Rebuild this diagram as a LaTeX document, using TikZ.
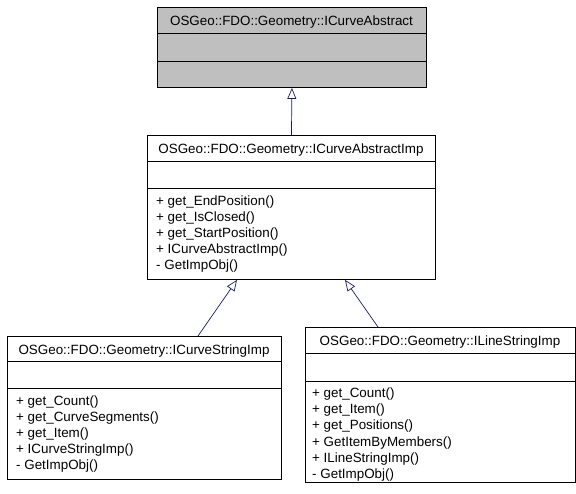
\documentclass[tikz,border=0pt]{standalone}
\usepackage{fontspec}
\setmainfont{Liberation Sans}
\usetikzlibrary{arrows.meta,calc}
\definecolor{boxgray}{HTML}{BFBFBF}
\definecolor{edgeblue}{HTML}{191970}
\begin{document}
\begin{tikzpicture}[x=1pt,y=-1pt,
  box/.style={draw=black, line width=0.9pt, rectangle, inner sep=0pt, anchor=north west},
  sep/.style={draw=black, line width=0.9pt},
  mem/.style={font=\fontsize{13.4}{15}\selectfont, inner sep=0pt, anchor=base west},
  hdr/.style={font=\fontsize{13.4}{15}\selectfont, inner sep=0pt, anchor=base},
  inh/.style={draw=edgeblue, line width=0.7pt, -{Triangle[open,length=11pt,width=9pt,fill=white]}}]
\useasboundingbox (0,0) rectangle (576,493);

% Top box
\node[box, fill=boxgray, minimum width=269pt, minimum height=80pt] (abs) at (157,7) {};
\draw[sep] ($(abs.north west)+(0,26)$) -- ($(abs.north east)+(0,26)$);
\draw[sep] ($(abs.north west)+(0,54)$) -- ($(abs.north east)+(0,54)$);
\node[hdr] (absT) at (291.5,25) {OSGeo::FDO::Geometry::ICurveAbstract};

% Middle box
\node[box, minimum width=288pt, minimum height=144pt] (imp) at (147,135) {};
\draw[sep] ($(imp.north west)+(0,26)$) -- ($(imp.north east)+(0,26)$);
\draw[sep] ($(imp.north west)+(0,53)$) -- ($(imp.north east)+(0,53)$);
\node[hdr] (impT) at (291,153) {OSGeo::FDO::Geometry::ICurveAbstractImp};
\node[mem] (imp1) at (156,205) {+ get\_EndPosition()};
\node[mem] (imp2) at (156,221) {+ get\_IsClosed()};
\node[mem] (imp3) at (156,237) {+ get\_StartPosition()};
\node[mem] (imp4) at (156,253) {+ ICurveAbstractImp()};
\node[mem] (imp5) at (156,269) {- GetImpObj()};

% Bottom left box
\node[box, minimum width=274pt, minimum height=143pt] (cs) at (7,336) {};
\draw[sep] ($(cs.north west)+(0,25)$) -- ($(cs.north east)+(0,25)$);
\draw[sep] ($(cs.north west)+(0,52)$) -- ($(cs.north east)+(0,52)$);
\node[hdr] (csT) at (144,354) {OSGeo::FDO::Geometry::ICurveStringImp};
\node[mem] (cs1) at (16,405) {+ get\_Count()};
\node[mem] (cs2) at (16,421) {+ get\_CurveSegments()};
\node[mem] (cs3) at (16,437) {+ get\_Item()};
\node[mem] (cs4) at (16,453) {+ ICurveStringImp()};
\node[mem] (cs5) at (16,469) {- GetImpObj()};

% Bottom right box
\node[box, minimum width=270pt, minimum height=155pt] (ls) at (305,327) {};
\draw[sep] ($(ls.north west)+(0,26)$) -- ($(ls.north east)+(0,26)$);
\draw[sep] ($(ls.north west)+(0,54)$) -- ($(ls.north east)+(0,54)$);
\node[hdr] (lsT) at (440,345) {OSGeo::FDO::Geometry::ILineStringImp};
\node[mem] (ls1) at (312,397.5) {+ get\_Count()};
\node[mem] (ls2) at (312,413.7) {+ get\_Item()};
\node[mem] (ls3) at (312,429.9) {+ get\_Positions()};
\node[mem] (ls4) at (312,446.1) {+ GetItemByMembers()};
\node[mem] (ls5) at (312,462.3) {+ ILineStringImp()};
\node[mem] (ls6) at (312,478.5) {- GetImpObj()};

% Inheritance connectors
\draw[inh] (imp.north) -- (abs.south);
\draw[inh] ($(cs.north west)+(191,0)$) -- ($(imp.south west)+(90,0)$);
\draw[inh] ($(ls.north west)+(73,0)$) -- ($(imp.south west)+(198,0)$);
\end{tikzpicture}
\end{document}
